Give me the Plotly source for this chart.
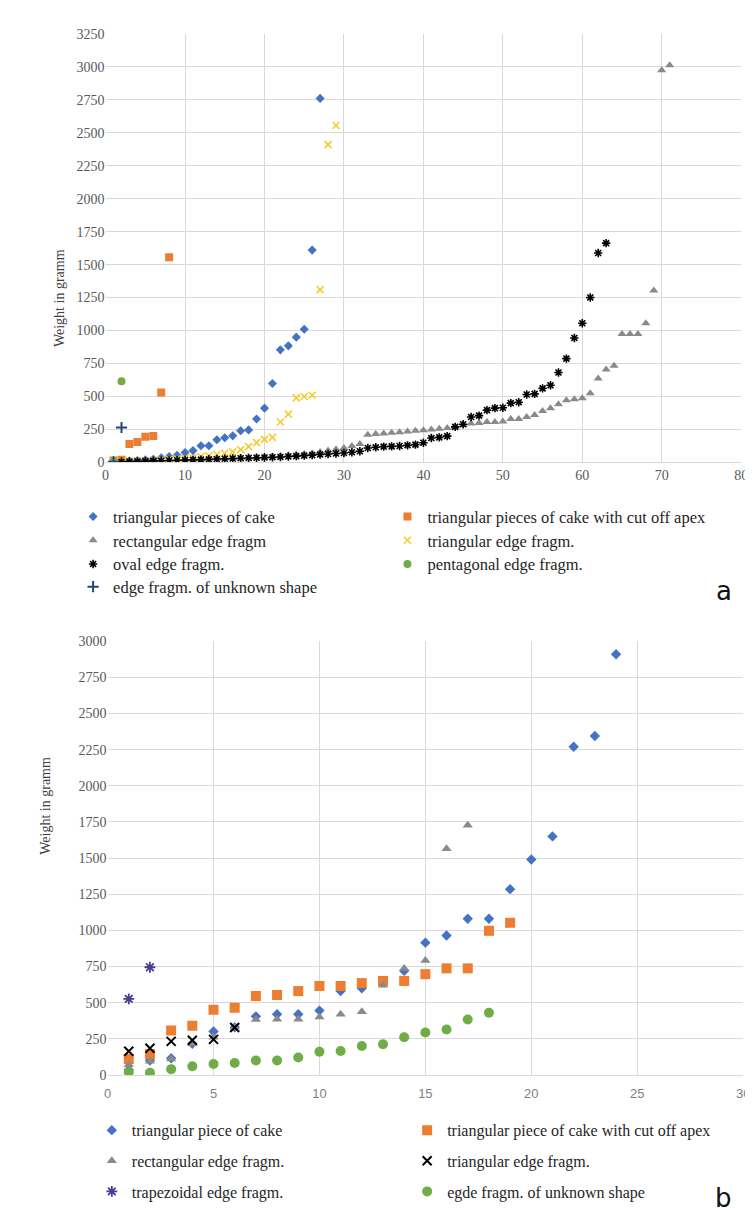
import plotly.graph_objects as go

W, H = 753, 1230

# ---------------- Chart a data ----------------
a_tri_cake = [5, 8, 10, 15, 20, 25, 35, 45, 55, 75, 90, 127, 127, 172, 187, 202, 240, 247,
              330, 412, 599, 854, 884, 950, 1010, 1610, 2760]
a_tri_cut = [15, 20, 140, 155, 195, 200, 530, 1555]
a_rect = [5, 8, 10, 12, 14, 15, 17, 18, 20, 22, 24, 26, 28, 30, 32, 34, 36, 38, 40, 43,
          46, 50, 55, 60, 65, 70, 80, 90, 100, 110, 125, 140, 210, 215, 220, 225, 230, 235,
          240, 245, 250, 255, 262, 270, 285, 295, 300, 307, 307, 310, 330, 330, 345, 360,
          390, 412, 442, 472, 480, 487, 524, 637, 704, 734, 974, 974, 974, 1056, 1303,
          2974, 3011]
a_tri_edge = [5, 8, 10, 12, 15, 18, 20, 24, 28, 32, 38, 45, 50, 60, 70, 80, 97, 120, 150,
              175, 190, 307, 367, 490, 500, 510, 1310, 2410, 2555]
a_oval = [3, 5, 7, 8, 10, 12, 13, 15, 17, 18, 20, 22, 24, 26, 28, 30, 32, 34, 36, 38, 40,
          42, 45, 48, 52, 56, 60, 64, 68, 72, 78, 85, 110, 115, 120, 122, 125, 130, 135,
          150, 185, 190, 200, 270, 290, 345, 355, 397, 412, 415, 450, 457, 515, 520, 562,
          585, 682, 787, 944, 1056, 1251, 1588, 1663]
a_penta = [10, 615]
a_unknown = [5, 265]

a_names = ["triangular pieces of cake", "triangular pieces of cake with cut off apex",
           "rectangular edge fragm", "triangular edge fragm.", "oval edge fragm.",
           "pentagonal edge fragm.", "edge fragm. of unknown shape"]

# ---------------- Chart b data ----------------
b_tri_cake = [35, 100, 115, 215, 300, 330, 405, 420, 420, 445, 580, 600, 640, 720, 915,
              965, 1080, 1080, 1285, 1490, 1650, 2270, 2345, 2910]
b_tri_cut = [110, 144, 307, 340, 450, 465, 546, 553, 580, 615, 615, 635, 650, 650, 697,
             737, 737, 997, 1052]
b_rect = [70, 95, 110, 215, 260, 330, 383, 385, 385, 400, 420, 437, 620, 737, 792, 1564, 1728]
b_tri_edge = [164, 185, 232, 240, 246, 328]
b_trap = [526, 745]
b_unknown = [20, 15, 40, 60, 75, 82, 100, 100, 120, 160, 165, 200, 212, 260, 294, 314, 383, 430]

b_names = ["triangular piece of cake", "triangular piece of cake with cut off apex",
           "rectangular edge fragm.", "triangular edge fragm.", "trapezoidal edge fragm.",
           "egde fragm. of unknown shape"]

a_x_ticks = [0, 10, 20, 30, 40, 50, 60, 70, 80]
b_x_ticks = [0, 5, 10, 15, 20, 25, 30]


def idx(v):
    return list(range(1, len(v) + 1))


BLUE = "#4472C4"
ORANGE = "#ED7D31"
GRAY = "#8A8A8A"
YELLOW = "#F7CB2E"
GREEN = "#70AD47"
NAVY = "#264478"
PURPLE = "#4A3D8F"

a_styles = [
    (a_tri_cake, dict(symbol="diamond", color=BLUE, size=7)),
    (a_tri_cut, dict(symbol="square", color=ORANGE, size=8)),
    (a_rect, dict(symbol="triangle-up", color=GRAY, size=8)),
    (a_tri_edge, dict(symbol="x-thin-open", color=YELLOW, size=7, line=dict(color=YELLOW, width=1.6))),
    (a_oval, dict(symbol="asterisk-open", color="#000000", size=7, line=dict(color="#000000", width=1.6))),
    (a_penta, dict(symbol="circle", color=GREEN, size=8)),
    (a_unknown, dict(symbol="cross-thin-open", color=NAVY, size=8, line=dict(color=NAVY, width=2))),
]
b_styles = [
    (b_tri_cake, dict(symbol="diamond", color=BLUE, size=8)),
    (b_tri_cut, dict(symbol="square", color=ORANGE, size=10)),
    (b_rect, dict(symbol="triangle-up", color=GRAY, size=9)),
    (b_tri_edge, dict(symbol="x-thin-open", color="#000000", size=9, line=dict(color="#000000", width=2))),
    (b_trap, dict(symbol="asterisk-open", color=PURPLE, size=9, line=dict(color=PURPLE, width=1.8))),
    (b_unknown, dict(symbol="circle", color=GREEN, size=10)),
]

fig = go.Figure()

a_leg_pos = [(62, 508), (381, 508), (62, 532), (381, 532), (62, 556), (381, 556), (62, 579)]
b_leg_pos = [(81, 1129), (401, 1129), (81, 1160), (401, 1160), (81, 1191), (401, 1191)]

SERIF = "Liberation Serif"

legend_layouts = {}
n = 0
for (vals, mk), name, pos in zip(a_styles, a_names, a_leg_pos):
    n += 1
    key = "legend" if n == 1 else f"legend{n}"
    fig.add_trace(go.Scatter(x=idx(vals), y=vals, mode="markers", name=name, marker=mk,
                             xaxis="x", yaxis="y", legend=key))
    legend_layouts[key] = (pos, 16.5)
for (vals, mk), name, pos in zip(b_styles, b_names, b_leg_pos):
    n += 1
    key = f"legend{n}"
    fig.add_trace(go.Scatter(x=idx(vals), y=vals, mode="markers", name=name, marker=mk,
                             xaxis="x2", yaxis="y2", legend=key))
    legend_layouts[key] = (pos, 16)

grid = "#D9D9D9"

layout = dict(
    width=W, height=H,
    margin=dict(l=0, r=0, t=0, b=0),
    paper_bgcolor="white", plot_bgcolor="white",
    showlegend=True,
    xaxis=dict(domain=[95 / W, 740 / W], anchor="y", range=[0, 80], tickvals=a_x_ticks,
               showgrid=True, gridcolor=grid, gridwidth=1, zeroline=False,
               showline=True, linecolor=grid, ticks="",
               tickfont=dict(family=SERIF, size=14, color="#595959")),
    yaxis=dict(domain=[1 - 453 / H, 1 - 19 / H], anchor="x", range=[0, 3250], dtick=250,
               showgrid=True, gridcolor=grid, zeroline=False, ticks="",
               tickfont=dict(family=SERIF, size=14, color="#595959")),
    xaxis2=dict(domain=[97 / W, 742 / W], anchor="y2", range=[0, 30], tickvals=b_x_ticks,
                showgrid=True, gridcolor=grid, zeroline=False,
                showline=True, linecolor=grid, ticks="", ticklabelstandoff=6,
                tickfont=dict(family="Liberation Sans", size=13, color="#7F7F7F")),
    yaxis2=dict(domain=[1 - 1073 / H, 1 - 634 / H], anchor="x2", range=[0, 3000], dtick=250,
                showgrid=True, gridcolor=grid, zeroline=False, ticks="",
                tickfont=dict(family=SERIF, size=14, color="#595959")),
    annotations=[
        dict(text="Weight in gramm", x=38 / W, y=1 - 235 / H, xref="paper", yref="paper",
             textangle=-90, showarrow=False, font=dict(family=SERIF, size=14, color="#404040")),
        dict(text="Weight in gramm", x=24 / W, y=1 - 852 / H, xref="paper", yref="paper",
             textangle=-90, showarrow=False, font=dict(family=SERIF, size=14, color="#404040")),
        dict(text="a", x=733 / W, y=1 - 583 / H, xref="paper", yref="paper", showarrow=False,
             font=dict(family="DejaVu Sans", size=26, color="#111111")),
        dict(text="b", x=733 / W, y=1 - 1215 / H, xref="paper", yref="paper", showarrow=False,
             font=dict(family="DejaVu Sans", size=26, color="#111111")),
    ],
)
for key, ((lx, ly), fs) in legend_layouts.items():
    layout[key] = dict(x=lx / W, y=1 - ly / H, xanchor="left", yanchor="middle",
                       xref="paper", yref="paper", bgcolor="rgba(0,0,0,0)",
                       font=dict(family=SERIF, size=fs, color="#262626"),
                       itemclick=False, itemdoubleclick=False)

fig.update_layout(**layout)
fig.write_html("out.html")
